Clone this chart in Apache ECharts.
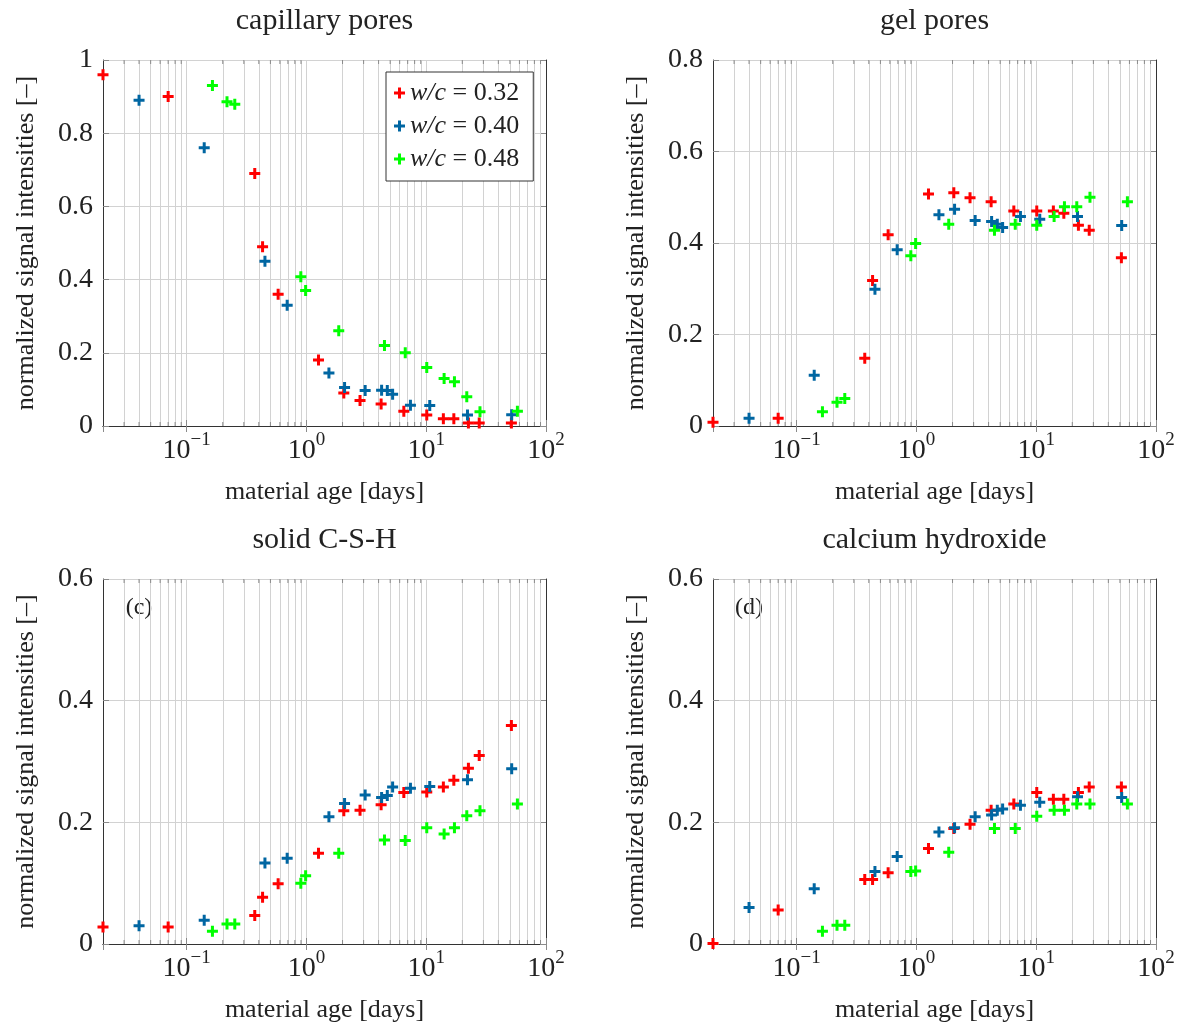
<html>
<head>
<meta charset="utf-8">
<title>NMR signal intensities</title>
<script src="https://cdn.jsdelivr.net/npm/echarts@6/dist/echarts.min.js"></script>
<style>
  body { margin: 0; background: #fff; }
  #main { width: 1186px; height: 1025px; }
</style>
</head>
<body>
<div id="main"></div>
<script>
// material age [days] of the measurements, one list per w/c ratio
var AGE_032 = [0.02, 0.07, 0.37, 0.43, 0.58, 1.26, 2.05, 2.8, 4.2, 6.5, 10.1, 13.9, 17.0, 22.5, 27.7, 51.4]
var AGE_040 = [0.04, 0.14, 0.45, 0.69, 1.54, 2.08, 3.09, 4.24, 4.73, 5.24, 7.38, 10.7, 22.1, 51.7]
var AGE_048 = [0.164, 0.217, 0.252, 0.897, 0.984, 1.86, 4.48, 6.68, 10.1, 14.1, 17.2, 21.8, 28.1, 57.7]

// capillary pores
var CAP_032 = [0.96, 0.90, 0.69, 0.49, 0.36, 0.18, 0.09, 0.07, 0.06, 0.04, 0.03, 0.02, 0.02, 0.008, 0.008, 0.008]
var CAP_040 = [0.89, 0.76, 0.45, 0.33, 0.145, 0.105, 0.097, 0.098, 0.097, 0.087, 0.057, 0.056, 0.03, 0.031]
var CAP_048 = [0.93, 0.886, 0.879, 0.408, 0.37, 0.26, 0.22, 0.2, 0.16, 0.13, 0.121, 0.08, 0.039, 0.04]
// gel pores
var GEL_032 = [0.008, 0.017, 0.148, 0.318, 0.418, 0.507, 0.51, 0.499, 0.49, 0.47, 0.47, 0.47, 0.465, 0.439, 0.428, 0.368]
var GEL_040 = [0.017, 0.111, 0.299, 0.385, 0.462, 0.474, 0.449, 0.447, 0.441, 0.434, 0.458, 0.452, 0.458, 0.438]
var GEL_048 = [0.031, 0.052, 0.06, 0.372, 0.399, 0.441, 0.428, 0.441, 0.439, 0.458, 0.479, 0.479, 0.5, 0.49]
// solid C-S-H
var CSH_032 = [0.028, 0.028, 0.047, 0.077, 0.099, 0.149, 0.219, 0.22, 0.229, 0.249, 0.25, 0.258, 0.269, 0.289, 0.31, 0.359]
var CSH_040 = [0.03, 0.039, 0.133, 0.141, 0.209, 0.231, 0.245, 0.241, 0.244, 0.258, 0.256, 0.259, 0.27, 0.288]
var CSH_048 = [0.021, 0.033, 0.033, 0.1, 0.112, 0.149, 0.171, 0.17, 0.191, 0.181, 0.191, 0.211, 0.219, 0.23]
// calcium hydroxide
var CH_032 = [0.001, 0.056, 0.106, 0.106, 0.117, 0.157, 0.19, 0.197, 0.22, 0.23, 0.249, 0.238, 0.238, 0.249, 0.258, 0.258]
var CH_040 = [0.06, 0.091, 0.119, 0.144, 0.184, 0.191, 0.209, 0.212, 0.22, 0.222, 0.228, 0.233, 0.242, 0.241]
var CH_048 = [0.021, 0.031, 0.031, 0.119, 0.12, 0.151, 0.19, 0.19, 0.21, 0.22, 0.22, 0.23, 0.23, 0.23]

var SERIES_NAMES = ['w/c=0.32', 'w/c=0.40', 'w/c=0.48']
var AGES = [AGE_032, AGE_040, AGE_048]
var PANEL_VALUES = [
    [CAP_032, CAP_040, CAP_048],
    [GEL_032, GEL_040, GEL_048],
    [CSH_032, CSH_040, CSH_048],
    [CH_032, CH_040, CH_048],
]
var PANEL_TITLES = ['capillary pores', 'gel pores', 'solid C-S-H', 'calcium hydroxide']
var PANEL_TAGS = ['', '', '(c)', '(d)']
var Y_MAX = [1, 0.8, 0.6, 0.6]
var Y_STEP = 0.2
var X_MIN = 0.02, X_MAX = 100
// minor log grid (2..9 in each decade)
var MINOR_AGES = [0.03, 0.04, 0.05, 0.06, 0.07, 0.08, 0.09,
    0.2, 0.3, 0.4, 0.5, 0.6, 0.7, 0.8, 0.9,
    2, 3, 4, 5, 6, 7, 8, 9,
    20, 30, 40, 50, 60, 70, 80, 90]
var X_NAME = 'material age [days]'
var Y_NAME = 'normalized signal intensities [–]'

// styling
var FONT = '"Liberation Serif", "DejaVu Serif", serif'
var COLORS = ['#ff0000', '#0066a2', '#00ff00']
var PLUS = 'path://M4,0h3v11h-3zM0,4h11v3h-11z'
var GRID_POS = [[103, 60, 443, 366], [713, 60, 443, 366], [103, 579, 443, 365], [713, 579, 443, 365]]
var TEXT = '#222', BOX = '#333', GRIDC = '#d2d2d2', TICKC = '#8a8a8a'

function powLabel(v) {
    var l = Math.log10(v), e = Math.round(l)
    if (Math.abs(l - e) > 1e-6) return ''
    return '{b|10}{s|' + (e < 0 ? '\u2212' + (-e) : e) + '}'
}

var grids = [], xAxes = [], yAxes = [], series = [], graphics = []

PANEL_TITLES.forEach(function (title, i) {
    var p = GRID_POS[i]
    grids.push({ left: p[0], top: p[1], width: p[2], height: p[3], outerBoundsMode: 'none' })

    // bottom + top x axes
    xAxes.push({
        type: 'log', logBase: 10, gridIndex: i, min: X_MIN, max: X_MAX, position: 'bottom',
        name: X_NAME, nameLocation: 'middle', nameGap: 53,
        nameTextStyle: { fontFamily: FONT, fontSize: 26, color: TEXT },
        axisLine: { show: true, lineStyle: { color: BOX, width: 1 } },
        axisTick: { inside: true, length: 6, lineStyle: { color: TICKC } },
        axisLabel: {
            margin: 5, formatter: powLabel, showMinLabel: false,
            rich: {
                b: { fontFamily: FONT, fontSize: 28, color: TEXT, lineHeight: 34, verticalAlign: 'bottom' },
                s: { fontFamily: FONT, fontSize: 19, color: TEXT, lineHeight: 19, verticalAlign: 'top' }
            }
        },
        splitLine: { show: true, lineStyle: { color: GRIDC, width: 1 } }
    })
    xAxes.push({
        type: 'log', logBase: 10, gridIndex: i, min: X_MIN, max: X_MAX, position: 'top',
        axisLine: { show: true, lineStyle: { color: BOX, width: 1 } },
        axisTick: { inside: true, length: 6, lineStyle: { color: TICKC } },
        axisLabel: { show: false }, splitLine: { show: false }
    })
    // left + right y axes
    yAxes.push({
        type: 'value', gridIndex: i, min: 0, max: Y_MAX[i], interval: Y_STEP, position: 'left',
        name: Y_NAME, nameLocation: 'middle', nameGap: 64,
        nameTextStyle: { fontFamily: FONT, fontSize: 26, color: TEXT },
        axisLine: { show: true, lineStyle: { color: BOX, width: 1 } },
        axisTick: { inside: true, length: 6, lineStyle: { color: TICKC } },
        axisLabel: { fontFamily: FONT, fontSize: 28, color: TEXT, margin: 10 },
        splitLine: { show: true, lineStyle: { color: GRIDC, width: 1 } }
    })
    yAxes.push({
        type: 'value', gridIndex: i, min: 0, max: Y_MAX[i], interval: Y_STEP, position: 'right',
        axisLine: { show: true, lineStyle: { color: BOX, width: 1 } },
        axisTick: { inside: true, length: 6, lineStyle: { color: TICKC } },
        axisLabel: { show: false }, splitLine: { show: false }
    })

    // minor grid lines and minor ticks (bottom)
    series.push({
        type: 'scatter', xAxisIndex: 2 * i, yAxisIndex: 2 * i, silent: true, z: 1,
        symbol: 'rect', symbolSize: [1, 4], symbolOffset: [0, -2],
        itemStyle: { color: TICKC, opacity: 1 }, clip: false,
        data: MINOR_AGES.map(function (a) { return [a, 0] }),
        markLine: {
            z: 1, silent: true, symbol: 'none', animation: false, label: { show: false },
            lineStyle: { color: GRIDC, width: 1, type: 'solid', opacity: 1 },
            data: MINOR_AGES.map(function (a) { return { xAxis: a } })
        }
    })
    // minor ticks (top)
    series.push({
        type: 'scatter', xAxisIndex: 2 * i, yAxisIndex: 2 * i, silent: true, z: 1,
        symbol: 'rect', symbolSize: [1, 4], symbolOffset: [0, 2],
        itemStyle: { color: TICKC, opacity: 1 }, clip: false,
        data: MINOR_AGES.map(function (a) { return [a, Y_MAX[i]] })
    })

    // measured data
    SERIES_NAMES.forEach(function (name, k) {
        var vals = PANEL_VALUES[i][k]
        series.push({
            name: name, type: 'scatter', xAxisIndex: 2 * i, yAxisIndex: 2 * i, z: 3,
            symbol: PLUS, symbolSize: 11, clip: false,
            itemStyle: { color: COLORS[k], opacity: 1 },
            emphasis: { disabled: true },
            data: AGES[k].map(function (a, j) { return [a, vals[j]] })
        })
    })

    graphics.push({
        type: 'text', x: p[0] + p[2] / 2, y: p[1] - 39,
        style: { text: title, font: '30px ' + FONT, fill: TEXT, textAlign: 'center', textVerticalAlign: 'middle' }
    })
    if (PANEL_TAGS[i]) graphics.push({
        type: 'text', x: p[0] + 36, y: p[1] + 29,
        style: { text: PANEL_TAGS[i], font: '24px ' + FONT, fill: TEXT, textAlign: 'center', textVerticalAlign: 'middle' }
    })
})

var chart = echarts.init(document.getElementById('main'))
chart.setOption({
    backgroundColor: '#fff',
    animation: false,
    grid: grids,
    xAxis: xAxes,
    yAxis: yAxes,
    series: series,
    graphic: graphics,
    legend: {
        left: 386, top: 72, orient: 'vertical',
        data: SERIES_NAMES, icon: PLUS, itemWidth: 11, itemHeight: 11, itemGap: 7,
        itemStyle: { opacity: 1 },
        padding: [8, 14, 9, 8], borderColor: BOX, borderWidth: 1, backgroundColor: '#fff',
        formatter: function (n) { return '{i|w/c}{n| = ' + n.split('=')[1] + '}' },
        textStyle: {
            rich: {
                i: { fontFamily: FONT, fontSize: 26, fontStyle: 'italic', color: TEXT },
                n: { fontFamily: FONT, fontSize: 26, color: TEXT }
            }
        }
    }
})
</script>
</body>
</html>
